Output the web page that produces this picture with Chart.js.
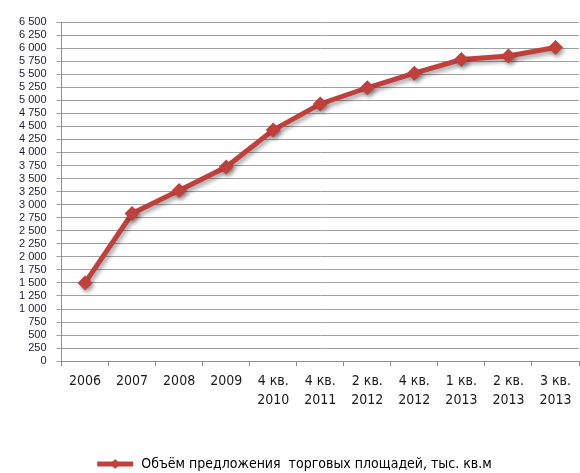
<!DOCTYPE html>
<html>
<head>
<meta charset="utf-8">
<script src="https://cdn.jsdelivr.net/npm/chart.js@4"></script>
<style>
  html, body { margin: 0; padding: 0; background: #fff; }
  #wrap { width: 580px; height: 473px; }
</style>
</head>
<body>
<div id="wrap"><canvas id="chart-supply"></canvas></div>
<script>
const periods = [
  "2006", "2007", "2008", "2009",
  ["4 кв.", "2010"], ["4 кв.", "2011"], ["2 кв.", "2012"], ["4 кв.", "2012"],
  ["1 кв.", "2013"], ["2 кв.", "2013"], ["3 кв.", "2013"],
];
const supply = [1500, 2830, 3270, 3720, 4430, 4930, 5240, 5520, 5780, 5850, 6010];
const seriesLabel = "Объём предложения  торговых площадей, тыс. кв.м";

const red = "#c0403d";

// legend sample: line with a diamond in the middle
function legendIcon() {
  const c = document.createElement("canvas");
  c.width = 38;
  c.height = 12;
  const g = c.getContext("2d");
  g.strokeStyle = red;
  g.lineWidth = 5;
  g.beginPath();
  g.moveTo(1, 6);
  g.lineTo(37, 6);
  g.stroke();
  g.fillStyle = red;
  g.beginPath();
  g.moveTo(19, 1);
  g.lineTo(24, 6);
  g.lineTo(19, 11);
  g.lineTo(14, 6);
  g.closePath();
  g.fill();
  return c;
}

const shadowPlugin = {
  id: "shadow",
  beforeDatasetsDraw(chart) {
    const ctx = chart.ctx;
    ctx.save();
    ctx.shadowColor = "rgba(0,0,0,0.35)";
    ctx.shadowBlur = 4;
    ctx.shadowOffsetX = 2;
    ctx.shadowOffsetY = 3;
  },
  afterDatasetsDraw(chart) {
    chart.ctx.restore();
  },
};

const icon = legendIcon();

new Chart(document.getElementById("chart-supply"), {
  type: "line",
  data: {
    labels: periods,
    datasets: [
      {
        label: seriesLabel,
        data: supply,
        borderColor: red,
        backgroundColor: red,
        borderWidth: 5,
        pointStyle: "rectRot",
        pointRadius: 7.5,
        pointHoverRadius: 7.5,
        pointBorderWidth: 0,
        tension: 0,
        clip: false,
      },
    ],
  },
  options: {
    responsive: true,
    maintainAspectRatio: false,
    animation: false,
    layout: { autoPadding: false, padding: { left: 9, right: 1, top: 22, bottom: -8 } },
    scales: {
      x: {
        offset: true,
        grid: {
          display: true,
          drawOnChartArea: false,
          offset: true,
          tickLength: 5,
          color: "#909090",
        },
        border: { color: "#909090" },
        ticks: {
          color: "#1a1a1a",
          padding: 6,
          maxRotation: 0,
          autoSkip: false,
          font: { family: "DejaVu Sans Condensed", size: 14, lineHeight: 1.35 },
        },
      },
      y: {
        min: 0,
        max: 6500,
        grid: { color: "#a0a0a0", tickLength: 5 },
        border: { color: "#909090" },
        ticks: {
          stepSize: 250,
          color: "#1c1c34",
          padding: 10,
          autoSkip: false,
          font: { family: "Liberation Sans", size: 11, lineHeight: 1 },
          callback: (v) => v >= 1000 ? Math.floor(v / 1000) + " " + String(v % 1000).padStart(3, "0") : String(v),
        },
      },
    },
    plugins: {
      legend: {
        position: "bottom",
        labels: {
          usePointStyle: true,
          pointStyle: icon,
          pointStyleWidth: 38,
          color: "#1a1a1a",
          padding: 41,
          font: { family: "DejaVu Sans Condensed", size: 14 },
          generateLabels: (chart) => [
            {
              text: seriesLabel,
              pointStyle: icon,
              fillStyle: red,
              strokeStyle: red,
              lineWidth: 0,
              datasetIndex: 0,
            },
          ],
        },
      },
      tooltip: { enabled: false },
    },
  },
  plugins: [shadowPlugin],
});
</script>
</body>
</html>
